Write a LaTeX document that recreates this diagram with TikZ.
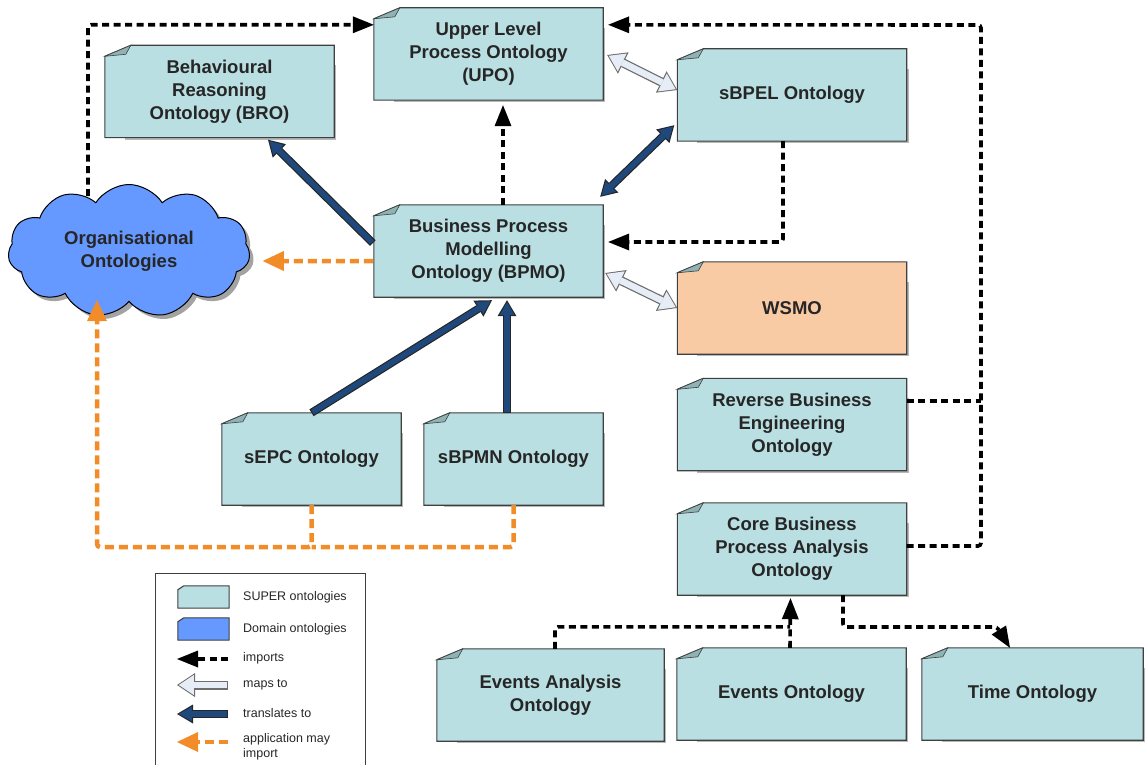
\documentclass[tikz,border=0pt]{standalone}
\usepackage{fontspec}
\setmainfont{Liberation Sans}
\usetikzlibrary{arrows.meta,shapes.symbols,shadows,backgrounds,calc}

\definecolor{superfill}{HTML}{B9DFE2}
\definecolor{wsmofill}{HTML}{F9CBA5}
\definecolor{domainfill}{HTML}{6699FF}
\definecolor{boxline}{HTML}{3F3F3F}
\definecolor{foldfill}{HTML}{8FB2B4}
\definecolor{shadowgray}{HTML}{B8B8B8}
\definecolor{navyline}{HTML}{1F497D}
\definecolor{mapsfill}{HTML}{E7EDF7}
\definecolor{mapsline}{HTML}{6E6E6E}
\definecolor{apporange}{HTML}{F28C28}
\definecolor{textgray}{HTML}{262626}

\tikzset{
  onto/.style={minimum width=229pt, minimum height=92pt, inner sep=0pt, align=center, text=textgray, font=\bfseries\fontsize{18.5}{23}\selectfont},
  legbox/.style={minimum width=51pt, minimum height=22pt, inner sep=0pt},
  legtext/.style={anchor=west, align=left, inner sep=0pt, text=textgray, font=\fontsize{12.5}{14.5}\selectfont},
  imptip/.tip={Triangle[length=21pt,width=17pt,line width=0pt]},
  imports/.style={draw=black, line width=3.6pt, dash pattern=on 7pt off 4.5pt, rounded corners=3pt, -imptip},
  importsline/.style={draw=black, line width=3.6pt, dash pattern=on 7pt off 4.5pt, rounded corners=3pt},
  apptip/.tip={Triangle[length=21pt,width=20pt,line width=0pt]},
  appimport/.style={draw=apporange, line width=4.5pt, dash pattern=on 9pt off 5pt, rounded corners=3pt, -apptip},
  appline/.style={draw=apporange, line width=4.5pt, dash pattern=on 9pt off 5pt, rounded corners=3pt},
  navout/.tip={Triangle[length=16pt,width=19pt,line width=0pt]},
  navin/.tip={Triangle[length=13pt,width=14.5pt,line width=0pt]},
  transl/.style={draw=navyline, line width=5.6pt, -navin, shorten >=1.8pt, shorten <=1.2pt,
    preaction={draw=black!85, line width=8pt, -navout, shorten >=0pt, shorten <=0pt}},
  transl both/.style={draw=navyline, line width=5.6pt, navin-navin, shorten >=1.8pt, shorten <=1.8pt,
    preaction={draw=black!85, line width=8pt, navout-navout, shorten >=0pt, shorten <=0pt}},
  mapout/.tip={Triangle[length=18pt,width=24pt,line width=0pt]},
  mapin/.tip={Triangle[length=15pt,width=20pt,line width=0pt]},
  maps/.style={draw=mapsfill, line width=6.5pt, -mapin, shorten >=1.8pt, shorten <=1.2pt,
    preaction={draw=mapsline, line width=9pt, -mapout, shorten >=0pt, shorten <=0pt}},
  maps both/.style={draw=mapsfill, line width=6.5pt, mapin-mapin, shorten >=1.8pt, shorten <=1.8pt,
    preaction={draw=mapsline, line width=9pt, mapout-mapout, shorten >=0pt, shorten <=0pt}},
}

\begin{document}
\begin{tikzpicture}[x=1pt, y=-1pt]
  \useasboundingbox (0,0) rectangle (1146,765);

  \node[onto] (upo) at (488.5,54) {Upper Level\\Process Ontology\\(UPO)};
  \node[onto] (bro) at (219.5,91.5) {Behavioural\\Reasoning\\Ontology (BRO)};
  \node[onto] (sbpel) at (792,95) {sBPEL Ontology};
  \node[onto] (bpmo) at (488.5,251) {Business Process\\Modelling\\Ontology (BPMO)};
  \node[onto] (wsmo) at (792,308) {WSMO};
  \node[onto] (rbe) at (792,424.5) {Reverse Business\\Engineering\\Ontology};
  \node[onto] (cbpa) at (792,549) {Core Business\\Process Analysis\\Ontology};
  \node[onto, minimum width=179pt] (sepc) at (311.5,459) {sEPC Ontology};
  \node[onto, minimum width=179pt] (sbpmn) at (513.5,459) {sBPMN Ontology};
  \node[onto, minimum width=227pt] (eva) at (550.5,695) {Events Analysis\\Ontology};
  \node[onto] (evo) at (791.5,694) {Events Ontology};
  \node[onto, minimum width=221pt] (time) at (1032.5,694) {Time Ontology};
  \node[cloud, cloud puffs=11, cloud puff arc=115, aspect=1.8, draw=black, line width=1pt, fill=domainfill,
        minimum width=242pt, minimum height=133pt, align=center, text=black!85,
        font=\bfseries\fontsize{18.5}{23}\selectfont,
        drop shadow={shadow xshift=4pt, shadow yshift=-4pt, fill=black!45, opacity=.8}] (org) at (129,251) {Organisational\\Ontologies};

  \begin{scope}[on background layer]
    \foreach \n/\c in {upo/superfill, bro/superfill, sbpel/superfill, bpmo/superfill, wsmo/wsmofill, rbe/superfill,
                       cbpa/superfill, sepc/superfill, sbpmn/superfill, eva/superfill, evo/superfill, time/superfill}{
      \fill[shadowgray] ([shift={(20pt,-20pt)}]\n.north west) rectangle ([shift={(2pt,-2pt)}]\n.south east);
      \filldraw[fill=\c, draw=boxline, line width=1.1pt] (\n.south west) -- ([yshift=-11pt]\n.north west)
        -- ([xshift=26pt]\n.north west) -- (\n.north east) -- (\n.south east) -- cycle;
      \filldraw[fill=foldfill, draw=boxline, line width=0.6pt] ([yshift=-11pt]\n.north west)
        -- ([xshift=26pt]\n.north west) -- ([shift={(21pt,-9pt)}]\n.north west) -- cycle;
    }
  \end{scope}

  % legend
  \draw[boxline, line width=1pt] (155,770) |- (365,573) -- (365,770);
  \node[legbox] (legsuper) at (203.5,597) {};
  \node[legbox] (legdomain) at (203.5,629) {};
  \foreach \n/\c in {legsuper/superfill, legdomain/domainfill}{
    \filldraw[fill=\c, draw=boxline, line width=1pt] (\n.south west) -- ([yshift=-4pt]\n.north west)
      -- ([xshift=6pt]\n.north west) -- (\n.north east) -- (\n.south east) -- cycle;
  }
  \node[legtext] (tsuper) at (243,597) {SUPER ontologies};
  \node[legtext] (tdomain) at (243,629) {Domain ontologies};
  \node[legtext] (timports) at (243,658) {imports};
  \node[legtext] (tmaps) at (243,685) {maps to};
  \node[legtext] (ttransl) at (243,713) {translates to};
  \node[legtext] (tapp) at (243,747) {application may\\import};
  \foreach \k/\y in {imp/659, map/685, tra/714, app/742}{
    \coordinate (\k tip) at (177,\y);
    \coordinate (\k tail) at (228,\y);
  }
  \draw[imports] (imptail) -- (imptip);
  \draw[maps] (maptail) -- (maptip);
  \draw[transl] (tratail) -- (tratip);
  \draw[appimport] (apptail) -- (apptip);

  % imports
  \coordinate (rail) at (981,25);
  \coordinate (rbeout) at ($(rbe.east)+(0,-23.5)$);
  \coordinate (evjoin) at ($(evo.north)+(-1.5,-21)$);
  \coordinate (timejoin) at (997,627);
  \draw[imports] ($(org.north)+(-41,12)$) |- ($(upo.north west)+(0,17)$);
  \draw[imports] ($(cbpa.east)+(0,-3)$) -| (rail) -- ($(upo.north east)+(5,17)$);
  \draw[importsline] (rbeout) -- (rbeout -| rail);
  \draw[imports] ($(bpmo.north)+(14.5,0)$) -- ($(upo.south)+(14.5,5)$);
  \draw[imports] ($(sbpel.south)+(-9,0)$) |- ($(bpmo.east)+(5,-9)$);
  \draw[imports] ($(evo.north)+(-1.5,0)$) -- ($(cbpa.south)+(-1.5,3)$);
  \draw[importsline] ($(eva.north)+(4.5,0)$) |- (evjoin);
  \draw[imports] ($(cbpa.south)+(51,0)$) |- (timejoin) -- ($(time.north)+(-22.5,0)$);

  % maps to
  \draw[maps both] ($(upo.east)+(4,1)$) -- ($(sbpel.west)+(0,-5)$);
  \draw[maps both] ($(bpmo.east)+(2,22)$) -- (wsmo.west);

  % translates to
  \draw[transl both] ($(bpmo.north east)+(-3,-8)$) -- ($(sbpel.south west)+(-3,-16)$);
  \draw[transl] ($(bpmo.west)+(-1,-8)$) -- ($(bro.south)+(48.5,2)$);
  \draw[transl] (sepc.north) -- ($(bpmo.south)+(3.5,3)$);
  \draw[transl] ($(sbpmn.north)+(-6.5,0)$) -- ($(sbpmn.north |- bpmo.south)+(-6.5,3)$);

  % application may import
  \coordinate (orail) at (97,547);
  \draw[appimport] ($(bpmo.west)+(-1,10)$) -- ($(org.east)+(13,10)$);
  \draw[appimport] (sepc.south) |- (orail) -- ($(orail |- org.south)+(0,-2)$);
  \draw[appline] (sbpmn.south) |- (sepc.south |- orail);
\end{tikzpicture}
\end{document}
